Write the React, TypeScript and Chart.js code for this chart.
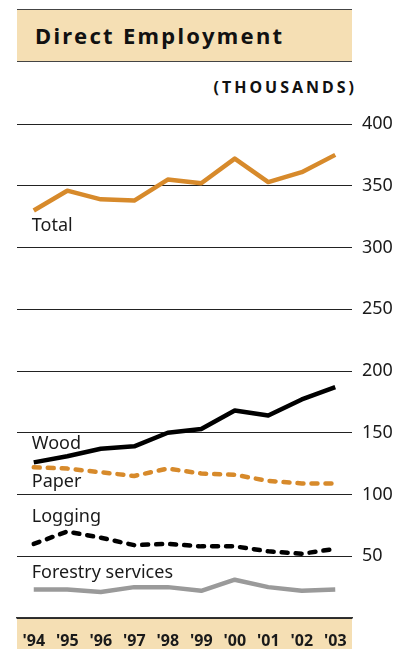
import React, { useEffect, useRef } from "react";
import { Chart, registerables } from "chart.js";

Chart.register(...registerables);

const years = ["'94", "'95", "'96", "'97", "'98", "'99", "'00", "'01", "'02", "'03"];
const total = [330, 346, 339, 338, 355, 352, 372, 353, 361, 375];
const wood = [126, 131, 137, 139, 150, 153, 168, 164, 177, 187];
const paper = [122, 121, 118, 115, 121, 117, 116, 111, 109, 109];
const logging = [60, 70, 65, 59, 60, 58, 58, 54, 52, 56];
const forestry = [23, 23, 21, 25, 25, 22, 31, 25, 22, 23];

const seriesNames = ["Total", "Wood", "Paper", "Logging", "Forestry services"];
const nameValues = [313, 137, 106, 78, 32];

const yMin = 0;
const yMax = 400;
const yStep = 50;

const ORANGE = "#D78A2B";
const BEIGE = "#F5DFB4";
const GRAY = "#9A9A9A";
const FONT = "'Noto Sans', sans-serif";

const labelPlugin = {
  id: "seriesNames",
  beforeDraw(chart: any) {
    const { ctx, chartArea, height } = chart;
    ctx.save();
    ctx.fillStyle = BEIGE;
    ctx.fillRect(chartArea.left, chartArea.bottom, chartArea.right - chartArea.left, height - chartArea.bottom);
    ctx.restore();
  },
  afterDatasetsDraw(chart: any) {
    const { ctx, scales } = chart;
    const x0 = scales.x.getPixelForValue(0) - 2;
    ctx.save();
    ctx.fillStyle = "#1a1a1a";
    ctx.font = `18px ${FONT}`;
    ctx.textAlign = "left";
    ctx.textBaseline = "alphabetic";
    seriesNames.forEach((n, i) => {
      ctx.fillText(n, x0, scales.y.getPixelForValue(nameValues[i]));
    });
    ctx.restore();
  },
};

export default function App() {
  const ref = useRef<HTMLCanvasElement | null>(null);
  useEffect(() => {
    if (!ref.current) return;
    const chart = new Chart(ref.current, {
      type: "line",
      data: {
        labels: years,
        datasets: [
          { data: total, borderColor: ORANGE, borderWidth: 4.5 },
          { data: wood, borderColor: "#000", borderWidth: 4.5 },
          { data: paper, borderColor: ORANGE, borderWidth: 4.5, borderDash: [6, 8], borderCapStyle: "round" },
          { data: logging, borderColor: "#000", borderWidth: 4.5, borderDash: [6, 8], borderCapStyle: "round" },
          { data: forestry, borderColor: GRAY, borderWidth: 4.5 },
        ].map((d: any) => ({ ...d, pointRadius: 0, fill: false, tension: 0, borderJoinStyle: "round" })),
      },
      options: {
        animation: false,
        responsive: true,
        maintainAspectRatio: false,
        layout: { padding: { left: 17, top: 124, right: 0, bottom: 0 } },
        plugins: { legend: { display: false }, tooltip: { enabled: false } },
        scales: {
          x: {
            offset: true,
            grid: { display: false },
            border: { display: true, color: "#333", width: 1.5 },
            ticks: { color: "#1a1a1a", font: { family: FONT, size: 16, weight: "bold" }, padding: 6 },
            afterFit: (s: any) => { s.height = 31; },
          },
          y: {
            position: "right",
            min: yMin,
            max: yMax,
            border: { display: false },
            grid: { color: "#222", lineWidth: 1, drawTicks: false },
            ticks: {
              stepSize: yStep,
              padding: 10,
              color: "#1a1a1a",
              font: { family: FONT, size: 18 },
              callback: (v: any) => (v === 0 ? "" : String(v)),
            },
            afterFit: (s: any) => { s.width = 53; },
          },
        },
      },
      plugins: [labelPlugin],
    } as any);
    return () => chart.destroy();
  }, []);

  return (
    <div style={{ position: "absolute", left: 0, top: 0, width: 405, height: 649, background: "#fff" }}>
      <div
        style={{
          position: "absolute",
          left: 17,
          top: 9,
          width: 317,
          height: 51,
          background: BEIGE,
          borderTop: "1.5px solid #444",
          borderBottom: "1.5px solid #444",
          fontFamily: FONT,
          fontWeight: "bold",
          fontSize: 22,
          letterSpacing: 2.3,
          lineHeight: "51px",
          paddingLeft: 18,
          boxSizing: "content-box",
          color: "#111",
          whiteSpace: "nowrap",
        }}
      >
        Direct Employment
      </div>
      <div
        style={{
          position: "absolute",
          right: 48,
          top: 76,
          fontFamily: FONT,
          fontWeight: "bold",
          fontSize: 16,
          letterSpacing: 3,
          color: "#111",
          whiteSpace: "nowrap",
        }}
      >
        (THOUSANDS)
      </div>
      <div style={{ position: "absolute", left: 0, top: 0, width: 405, height: 649 }}>
        <canvas ref={ref} />
      </div>
    </div>
  );
}
